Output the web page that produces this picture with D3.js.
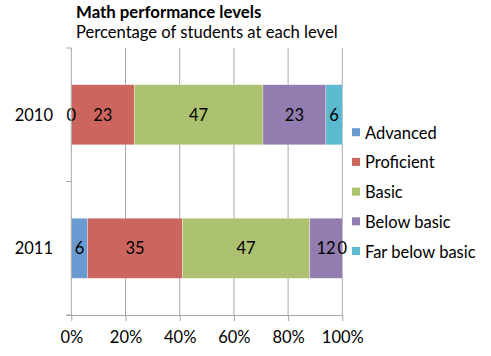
<!DOCTYPE html>
<html><head><meta charset="utf-8">
<script src="https://cdn.jsdelivr.net/npm/d3@7"></script>
<style>body{margin:0;background:#fff}svg{display:block;font-family:Lato,"Open Sans",sans-serif}</style>
</head><body><svg id="c" width="491" height="356"></svg>
<script>
const years = ["2010", "2011"];
const levels = ["Advanced", "Proficient", "Basic", "Below basic", "Far below basic"];
const colors = ["#6a9bd0", "#cd655f", "#adc270", "#937db0", "#5bb9d0"];
const advanced = [0, 6];
const proficient = [23, 35];
const basic = [47, 47];
const belowBasic = [23, 12];
const farBelowBasic = [6, 0];
const xTicks = [0, 0.2, 0.4, 0.6, 0.8, 1];

const series = [advanced, proficient, basic, belowBasic, farBelowBasic];
const rows = years.map((y, i) => {
  const o = {year: y};
  levels.forEach((l, j) => o[l] = series[j][i]);
  return o;
});
const stacked = d3.stack().keys(levels).offset(d3.stackOffsetExpand)(rows);

const svg = d3.select("#c");
const L = 71.3, R = 342.3, T = 48, B = 315;
const FS = 16.5;
const x = d3.scaleLinear().domain([0, 1]).range([L, R]);
const y = d3.scaleBand().domain(years).range([T, B]).paddingInner(0.55).paddingOuter(0.275);
const yEdge = d3.scaleLinear().domain([0, years.length]).range([T, B]);

// gridlines
svg.append("g").selectAll("line").data(xTicks.slice(1)).join("line")
  .attr("x1", d => x(d)).attr("x2", d => x(d)).attr("y1", T).attr("y2", B)
  .attr("stroke", "#a6a6a6").attr("stroke-width", 1);

// bars
const g = svg.append("g");
stacked.forEach((s, j) => {
  g.selectAll(null).data(s).join("rect")
    .attr("x", d => x(d[0])).attr("width", d => Math.max(0, x(d[1]) - x(d[0])))
    .attr("y", d => y(d.data.year)).attr("height", y.bandwidth())
    .attr("fill", colors[j]).attr("stroke", "rgba(255,255,255,0.5)").attr("stroke-width", 0.6);
});
const lbl = svg.append("g");
stacked.forEach((s, j) => {
  lbl.selectAll(null).data(s).join("text")
    .attr("x", d => (x(d[0]) + x(d[1])) / 2).attr("y", d => y(d.data.year) + y.bandwidth() / 2)
    .attr("text-anchor", "middle").attr("dominant-baseline", "central")
    .attr("font-size", FS).attr("fill", "#000")
    .text(d => d.data[levels[j]]);
});

// axes
const xa = svg.append("g").attr("transform", `translate(0,${B})`)
  .call(d3.axisBottom(x).tickValues(xTicks).tickFormat(d3.format(".0%")).tickSize(6).tickSizeOuter(0));
xa.select(".domain").attr("stroke", "#a6a6a6").attr("d", `M${L - 5},0.5H${R}`);
xa.selectAll(".tick line").attr("stroke", "#a6a6a6");
xa.selectAll(".tick text").attr("font-size", FS).attr("fill", "#000").attr("dy", "1.15em")
  .attr("font-family", "Lato,sans-serif");

svg.append("line").attr("x1", L).attr("x2", L).attr("y1", T).attr("y2", B).attr("stroke", "#a6a6a6");
svg.append("g").selectAll("line").data(d3.range(years.length + 1)).join("line")
  .attr("x1", L - 5).attr("x2", L).attr("y1", d => yEdge(d)).attr("y2", d => yEdge(d))
  .attr("stroke", "#a6a6a6");
svg.append("g").selectAll("text").data(years).join("text")
  .attr("x", 53).attr("y", d => y(d) + y.bandwidth() / 2).attr("text-anchor", "end")
  .attr("dominant-baseline", "central").attr("font-size", FS).text(d => d);

// legend
const lg = svg.append("g");
levels.forEach((l, j) => {
  const cy = 132.7 + j * 29.7;
  lg.append("rect").attr("x", 352).attr("y", cy - 4.5).attr("width", 8).attr("height", 8).attr("fill", colors[j]);
  lg.append("text").attr("x", 365).attr("y", cy).attr("dominant-baseline", "central")
    .attr("font-size", FS).text(l);
});

// titles
svg.append("text").attr("x", 76).attr("y", 18).attr("font-size", 16.8).attr("font-weight", "bold")
  .text("Math performance levels");
svg.append("text").attr("x", 76).attr("y", 38).attr("font-size", 16.6)
  .text("Percentage of students at each level");
</script></body></html>
